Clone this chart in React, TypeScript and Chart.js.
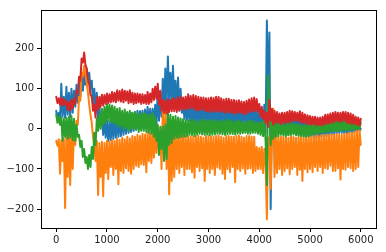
import { useEffect, useRef } from "react";
import { Chart, registerables } from "chart.js";

Chart.register(...registerables);

// sample spacing along x (values every 25 samples)
const STEP = 25;

const X_TICKS = [0, 1000, 2000, 3000, 4000, 5000, 6000];
const Y_TICKS = [-200, -100, 0, 100, 200];

// 20 values per row = 500 samples per row
const blueSeries = [
  45, 22, 40, 20, 112, 30, 80, 28, 105, 35, 90, 30, 100, 40, 95, 55, 110, 65, 115, 80,
  140, 95, 135, 110, 150, 115, 140, 100, 120, 60, 100, 45, 90, 20, 60, 10, 35, -15, 25, -22,
  20, -30, 18, -28, 25, -25, 22, -22, 30, -20, 28, -18, 35, -15, 32, -12, 40, -10, 38, -8,
  40, -5, 42, -2, 45, 0, 44, 0, 45, 2, 48, 5, 55, 5, 50, 8, 50, 5, 60, 10,
  95, 20, 90, 30, 125, 40, 150, 60, 180, 70, 140, 65, 157, 60, 120, 55, 128, 45, 100, 40,
  70, 25, 62, 22, 60, 20, 58, 18, 55, 15, 58, 16, 60, 15, 56, 18, 55, 18, 57, 16,
  58, 15, 56, 14, 55, 12, 57, 14, 55, 15, 56, 16, 58, 18, 55, 16, 55, 15, 54, 14,
  52, 12, 54, 12, 50, 10, 52, 12, 55, 15, 53, 14, 50, 12, 52, 10, 70, 10, 55, 5,
  40, 0, 45, -5, 60, -10, 270, 60, 240, -200, 40, -5, 35, -8, 37, -10, 35, -10, 37, -12,
  30, -12, 32, -15, 35, -12, 30, -10, 28, -14, 25, -15, 25, -16, 22, -18, 20, -18, 22, -20,
  22, -20, 20, -22, 20, -22, 18, -20, 18, -20, 20, -18, 20, -18, 22, -15, 22, -15, 24, -12,
  25, -12, 24, -10, 22, -10, 20, -12, 20, -12, 18, -10, 18, -10, 16, -8, 15, -8, 12, -5,
  0,
];

const orangeSeries = [
  -30, -42, -26, -112, -28, -80, -25, -197, -10, -120, -12, -140, -2, -100, -5, -40, 20, 10, 80, 70,
  140, 130, 157, 135, 115, 90, 60, 35, 15, -20, -40, -80, -30, -165, -35, -120, -32, -168, -35, -110,
  -30, -125, -32, -95, -28, -115, -30, -100, -25, -138, -28, -105, -22, -110, -26, -98, -20, -105, -24, -112,
  -18, -100, -20, -92, -15, -95, -18, -88, -12, -90, -14, -108, -8, -80, -10, -85, -5, -72, -8, -60,
  5, -60, -5, -100, 50, -60, 40, -100, 45, -163, -10, -130, -12, -120, -15, -100, -12, -110, -16, -95,
  -15, -115, -18, -100, -18, -100, -20, -108, -20, -122, -17, -95, -17, -105, -20, -98, -22, -130, -18, -100,
  -18, -110, -20, -100, -20, -115, -18, -96, -16, -100, -20, -112, -22, -125, -18, -100, -18, -108, -20, -95,
  -20, -133, -18, -100, -17, -105, -20, -98, -22, -112, -18, -100, -18, -98, -20, -110, -20, -105, -45, -100,
  -48, -100, -45, -110, -50, -90, -225, -30, -20, -150, -15, 50, -120, -15, -110, -18, -100, -20, -115, -18,
  -105, -20, -98, -22, -113, -18, -100, -20, -95, -22, -115, -20, -102, -18, -130, -20, -100, -18, -108, -20,
  -100, -20, -108, -18, -95, -15, -105, -18, -95, -16, -110, -15, -98, -16, -100, -14, -92, -15, -105, -14,
  -105, -12, -98, -14, -126, -15, -100, -12, -102, -12, -95, -10, -98, -10, -105, -8, -100, -5, -95, -3,
  -40,
];

const greenSeries = [
  35, 15, 30, 10, 28, -30, 25, -20, 28, -25, 30, -22, 32, -28, 25, -30, 10, -20, -15, -45,
  -30, -70, -50, -85, -70, -100, -65, -95, -45, -75, -10, -40, 25, -5, 35, 0, 50, 10, 55, 15,
  62, 20, 60, 18, 58, 15, 55, 12, 50, 5, 52, 8, 45, 0, 48, 2, 42, -5, 45, 0,
  40, 0, 42, -2, 38, -8, 36, -5, 40, -5, 38, -8, 35, -10, 36, -12, 38, -20, 30, -30,
  10, -65, 5, -50, 5, -80, 10, -75, 45, -40, 35, -35, 30, -25, 32, -22, 28, -22, 26, -20,
  24, -20, 22, -18, 20, -15, 22, -16, 22, -18, 20, -14, 18, -12, 20, -14, 24, -15, 21, -14,
  20, -16, 21, -15, 22, -14, 20, -12, 18, -12, 19, -14, 20, -15, 22, -13, 22, -12, 20, -13,
  18, -14, 19, -12, 20, -12, 18, -11, 16, -10, 18, -12, 20, -12, 19, -10, 18, -10, 16, -12,
  15, -15, 18, -18, 20, -30, -140, 135, 60, -40, 20, -25, 15, -20, 14, -18, 12, -15, 13, -16,
  10, -18, 12, -16, 14, -15, 13, -14, 12, -16, 11, -17, 10, -18, 9, -19, 8, -20, 9, -18,
  10, -15, 11, -14, 12, -12, 13, -11, 14, -10, 14, -9, 15, -8, 16, -7, 18, -6, 18, -6,
  20, -5, 19, -5, 18, -5, 19, -4, 20, -4, 19, -3, 18, -3, 19, -2, 20, 0, 18, 0,
  15,
];

const redSeries = [
  80, 64, 76, 60, 78, 58, 74, 60, 70, 48, 66, 45, 72, 52, 75, 62, 95, 88, 130, 120,
  175, 165, 190, 160, 150, 125, 110, 85, 80, 45, 60, 28, 78, 48, 80, 55, 85, 58, 84, 62,
  88, 64, 86, 66, 92, 68, 90, 66, 96, 70, 94, 68, 98, 66, 95, 70, 93, 64, 96, 66,
  90, 62, 88, 64, 88, 66, 86, 62, 86, 64, 84, 62, 92, 62, 88, 66, 100, 72, 105, 75,
  112, 60, 95, 45, 72, 40, 70, 38, 74, 42, 72, 44, 76, 44, 74, 42, 80, 46, 78, 48,
  78, 48, 80, 50, 86, 50, 82, 52, 84, 48, 82, 46, 80, 46, 78, 48, 78, 45, 76, 44,
  76, 42, 78, 44, 77, 42, 80, 44, 79, 43, 76, 42, 73, 40, 75, 42, 75, 40, 72, 40,
  72, 38, 70, 40, 71, 40, 68, 38, 67, 36, 70, 40, 73, 42, 76, 44, 78, 44, 74, 42,
  62, 30, 55, 25, 45, 15, 40, 5, 72, 20, 50, 10, 45, 14, 42, 16, 38, 12, 40, 14,
  40, 15, 42, 16, 45, 18, 44, 20, 42, 20, 40, 18, 44, 16, 40, 15, 36, 12, 34, 12,
  32, 10, 30, 12, 30, 8, 28, 10, 28, 9, 30, 10, 35, 12, 36, 14, 38, 15, 40, 16,
  42, 20, 40, 18, 40, 18, 42, 20, 42, 15, 40, 14, 38, 12, 35, 12, 30, 10, 28, 8,
  25,
];

const SERIES = [
  { values: blueSeries, color: "#1f77b4", order: 3 },
  { values: orangeSeries, color: "#ff7f0e", order: 2 },
  { values: greenSeries, color: "#2ca02c", order: 1 },
  { values: redSeries, color: "#d62728", order: 0 },
];

const framePlugin = {
  id: "frame",
  afterDraw(chart: any) {
    const { ctx, chartArea } = chart;
    ctx.save();
    ctx.strokeStyle = "#000";
    ctx.lineWidth = 1;
    ctx.strokeRect(
      Math.round(chartArea.left) + 0.5,
      Math.round(chartArea.top) + 0.5,
      Math.round(chartArea.right - chartArea.left),
      Math.round(chartArea.bottom - chartArea.top)
    );
    ctx.restore();
  },
};

const fmt = (v: number) => (v < 0 ? "\u2212" + Math.abs(v) : String(v));

export default function App() {
  const ref = useRef<HTMLCanvasElement | null>(null);
  useEffect(() => {
    if (!ref.current) return;
    const chart = new Chart(ref.current, {
      type: "line",
      data: {
        datasets: SERIES.map((s) => ({
          data: s.values.map((v, i) => ({ x: i * STEP, y: v })),
          borderColor: s.color,
          backgroundColor: s.color,
          borderWidth: 2,
          borderJoinStyle: "round" as const,
          borderCapStyle: "round" as const,
          pointRadius: 0,
          tension: 0,
          fill: false,
          order: s.order,
        })),
      },
      options: {
        animation: false,
        responsive: false,
        devicePixelRatio: 1,
        layout: { padding: { left: 0, top: 10, right: 10, bottom: 0 } },
        plugins: { legend: { display: false }, tooltip: { enabled: false } },
        scales: {
          x: {
            type: "linear",
            min: -300,
            max: 6300,
            afterFit: (s: any) => {
              s.height = 24;
            },
            afterBuildTicks: (s: any) => {
              s.ticks = X_TICKS.map((v) => ({ value: v }));
            },
            border: { display: false },
            grid: {
              display: true,
              drawOnChartArea: false,
              drawTicks: true,
              tickLength: 4,
              color: "#000",
            },
            ticks: {
              padding: 2,
              color: "#222",
              font: { family: "DejaVu Sans", size: 10 },
              maxRotation: 0,
              callback: (v: any) => fmt(Number(v)),
            },
          },
          y: {
            type: "linear",
            min: -247,
            max: 296,
            afterFit: (s: any) => {
              s.width = 41;
            },
            afterBuildTicks: (s: any) => {
              s.ticks = Y_TICKS.map((v) => ({ value: v }));
            },
            border: { display: false },
            grid: {
              display: true,
              drawOnChartArea: false,
              drawTicks: true,
              tickLength: 4,
              color: "#000",
            },
            ticks: {
              padding: 3,
              color: "#222",
              font: { family: "DejaVu Sans", size: 10 },
              callback: (v: any) => fmt(Number(v)),
            },
          },
        },
      },
      plugins: [framePlugin],
    });
    return () => chart.destroy();
  }, []);
  return (
    <div style={{ position: "fixed", left: 0, top: 0, width: 386, height: 252, background: "#fff" }}>
      <canvas ref={ref} width={386} height={252} style={{ display: "block" }} />
    </div>
  );
}
